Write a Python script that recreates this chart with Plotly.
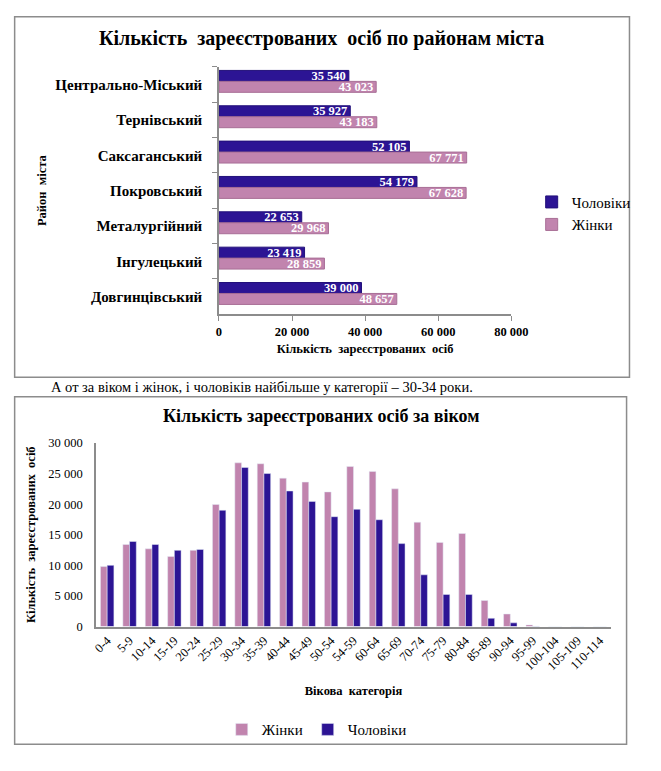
import plotly.graph_objects as go

# ---------------- data ----------------
districts = ["Центрально-Міський", "Тернівський", "Саксаганський", "Покровський",
             "Металургійний", "Інгулецький", "Довгинцівський"]
men_district = [35540, 35927, 52105, 54179, 22653, 23419, 39000]
women_district = [43023, 43183, 67771, 67628, 29968, 28859, 48657]

age_groups = ["0-4", "5-9", "10-14", "15-19", "20-24", "25-29", "30-34", "35-39",
              "40-44", "45-49", "50-54", "54-59", "60-64", "65-69", "70-74", "75-79",
              "80-84", "85-89", "90-94", "95-99", "100-104", "105-109", "110-114"]
women_age = [9800, 13400, 12700, 11450, 12450, 19950, 26750, 26600, 24250, 23600,
             22000, 26150, 25350, 22500, 17050, 13750, 15200, 4250, 2050, 270, 25, 0, 0]
men_age = [10000, 13900, 13400, 12450, 12600, 19000, 26000, 25000, 22150, 20450,
           17950, 19150, 17450, 13550, 8450, 5250, 5250, 1350, 600, 40, 5, 0, 0]

x_ticks_district = [0, 20000, 40000, 60000, 80000]
y_ticks_age = [0, 5000, 10000, 15000, 20000, 25000, 30000]

BLUE = "#2C1494"
PINK = "#C184AE"
BLUE_EDGE = "#22107A"
PINK_EDGE = "#A86E96"
FONT = "Liberation Serif, Times New Roman, serif"
GRAY = "#8C8C8C"

W, H = 661, 771


def px(x):
    return x / W


def py(y):
    return 1 - y / H


fig = go.Figure()

# ---------- chart 1 ----------
fig.add_trace(go.Bar(
    y=districts, x=men_district, orientation="h", name="Чоловіки",
    marker=dict(color=BLUE, line=dict(color=BLUE_EDGE, width=1)),
    width=0.31, offset=-0.4,
    xaxis="x", yaxis="y", legend="legend",
    texttemplate="%{x:,d}", textposition="inside", insidetextanchor="end",
    constraintext="none",
    textfont=dict(family=FONT, size=12.5, color="white", weight="bold"),
    hoverinfo="skip"))
fig.add_trace(go.Bar(
    y=districts, x=women_district, orientation="h", name="Жінки",
    marker=dict(color=PINK, line=dict(color=PINK_EDGE, width=1)),
    width=0.31, offset=-0.09,
    xaxis="x", yaxis="y", legend="legend",
    texttemplate="%{x:,d}", textposition="inside", insidetextanchor="end",
    constraintext="none",
    textfont=dict(family=FONT, size=12.5, color="white", weight="bold"),
    hoverinfo="skip"))

# ---------- chart 2 ----------
fig.add_trace(go.Bar(
    x=age_groups, y=women_age, name="Жінки", marker=dict(color=PINK),
    xaxis="x2", yaxis="y2", legend="legend2", hoverinfo="skip"))
fig.add_trace(go.Bar(
    x=age_groups, y=men_age, name="Чоловіки", marker=dict(color=BLUE),
    xaxis="x2", yaxis="y2", legend="legend2", hoverinfo="skip"))

fig.update_layout(
    width=W, height=H, margin=dict(l=0, r=0, t=0, b=0),
    paper_bgcolor="white", plot_bgcolor="white",
    separators=", ",
    barmode="group", bargap=0.4,
    font=dict(family=FONT, color="black"),
    xaxis=dict(
        domain=[px(222), px(524)], anchor="y", range=[0, 80000],
        tickvals=x_ticks_district, tickformat=",d",
        tickfont=dict(family=FONT, size=12.5, weight="bold"),
        showline=True, linecolor=GRAY, linewidth=1.5,
        ticks="outside", ticklen=5, tickcolor=GRAY, showgrid=False, zeroline=False,
        title=dict(text="Кількість  зареєстрованих  осіб",
                   font=dict(family=FONT, size=12.5, weight="bold"), standoff=6),
    ),
    yaxis=dict(
        domain=[py(313), py(61)], anchor="x", autorange="reversed",
        tickfont=dict(family=FONT, size=15, weight="bold"),
        showline=True, linecolor=GRAY, linewidth=1.5,
        ticks="outside", tickson="boundaries", ticklen=5, tickcolor=GRAY,
        showgrid=False, ticklabelstandoff=12,
        title=dict(text="Район  міста",
                   font=dict(family=FONT, size=12.5, weight="bold"), standoff=6),
    ),
    xaxis2=dict(
        domain=[px(95), px(627)], anchor="y2",
        tickangle=-45, tickfont=dict(family=FONT, size=12.5),
        showline=True, linecolor=GRAY, linewidth=1.5, showgrid=False, ticks="",
        title=dict(text="Вікова  категорія",
                   font=dict(family=FONT, size=12.5, weight="bold"), standoff=14),
    ),
    yaxis2=dict(
        domain=[py(631), py(444)], anchor="x2", range=[0, 30000],
        tickvals=y_ticks_age, tickformat=",d",
        tickfont=dict(family=FONT, size=12.5),
        showline=True, linecolor=GRAY, linewidth=1.5, showgrid=False, zeroline=False,
        ticks="", ticklabelstandoff=9,
        title=dict(text="Кількість  зареєстрованих  осіб",
                   font=dict(family=FONT, size=12.5, weight="bold"), standoff=10),
    ),
    legend=dict(
        x=px(545), y=py(210), xanchor="left", yanchor="middle",
        font=dict(family=FONT, size=15), bgcolor="rgba(0,0,0,0)",
        tracegroupgap=3, itemwidth=30,
    ),
    legend2=dict(
        orientation="h", x=px(323), y=py(736), xanchor="center", yanchor="middle",
        font=dict(family=FONT, size=15), bgcolor="rgba(0,0,0,0)",
    ),
    showlegend=True,
)

# frames
fig.add_shape(type="rect", xref="paper", yref="paper",
              x0=px(11), x1=px(646), y0=py(377), y1=py(10),
              line=dict(color=GRAY, width=1.5), fillcolor="rgba(0,0,0,0)", layer="below")
fig.add_shape(type="rect", xref="paper", yref="paper",
              x0=px(11), x1=px(643), y0=py(751), y1=py(397),
              line=dict(color=GRAY, width=1.5), fillcolor="rgba(0,0,0,0)", layer="below")

# titles and text
fig.add_annotation(text="<b>Кількість  зареєстрованих  осіб по районам міста</b>",
                   xref="paper", yref="paper", x=px(328), y=py(32),
                   xanchor="center", yanchor="middle", showarrow=False,
                   font=dict(family=FONT, size=20))
fig.add_annotation(text="<b>Кількість зареєстрованих осіб за віком</b>",
                   xref="paper", yref="paper", x=px(327), y=py(417),
                   xanchor="center", yanchor="middle", showarrow=False,
                   font=dict(family=FONT, size=18))
fig.add_annotation(text="А от за віком і жінок, і чоловіків найбільше у категорії – 30-34 роки.",
                   xref="paper", yref="paper", x=px(46), y=py(387),
                   xanchor="left", yanchor="middle", showarrow=False,
                   font=dict(family=FONT, size=14.5))

fig.write_html("out.html", config={"displayModeBar": False},
               post_script="document.body.style.margin='0';document.body.style.overflow='hidden';")
